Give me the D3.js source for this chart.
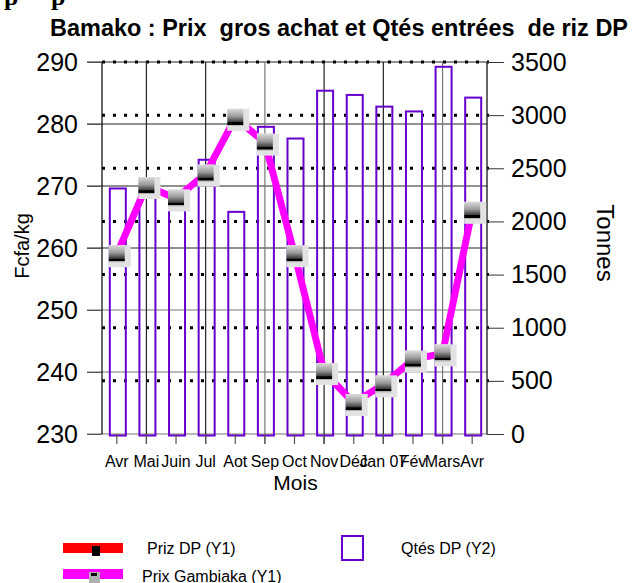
<!DOCTYPE html>
<html>
<head>
<meta charset="utf-8">
<script src="https://cdn.jsdelivr.net/npm/d3@7"></script>
<style>
  body { margin: 0; background: #fff; }
  svg { display: block; font-family: "Liberation Sans", Arial, sans-serif; }
</style>
</head>
<body>
<div id="chart"></div>
<script>
// Data
const months = ["Avr", "Mai", "Juin", "Jul", "Aot", "Sep", "Oct", "Nov", "Déc", "Jan 07", "Fév", "Mars", "Avr "];
const qtesDP = [2310, 2330, 2200, 2580, 2090, 2890, 2780, 3230, 3190, 3080, 3035, 3455, 3165];
const prixGambiaka = [259, 270, 268, 272, 281, 277, 259, 240, 235, 238, 242, 243, 266];
const y1Ticks = [230, 240, 250, 260, 270, 280, 290];
const y2Ticks = [0, 500, 1000, 1500, 2000, 2500, 3000, 3500];

const width = 632, height = 583;
const plot = {left: 102, right: 487, top: 62, bottom: 434};

const purple = "#6600cc";
const magenta = "#ff00ff";

const svg = d3.select("#chart").append("svg")
    .attr("width", width)
    .attr("height", height);

// marker gradient
const defs = svg.append("defs");
const grad = defs.append("linearGradient")
    .attr("id", "mk")
    .attr("x1", 0).attr("y1", 0).attr("x2", 0).attr("y2", 1);
[[0, "#dcdcdc"], [0.45, "#9a9a9a"], [0.78, "#3a3a3a"], [0.8, "#000"], [0.93, "#000"], [0.94, "#b0b0b0"], [1, "#b0b0b0"]]
    .forEach(([o, c]) => grad.append("stop").attr("offset", o).attr("stop-color", c));

// Scales
const x = d3.scaleBand()
    .domain(d3.range(months.length))
    .range([plot.left, plot.right])
    .padding(0);

const y1 = d3.scaleLinear().domain([230, 290]).range([plot.bottom, plot.top]);
const y2 = d3.scaleLinear().domain([0, 3500]).range([plot.bottom, plot.top]);
const cx = i => x(i) + x.bandwidth() / 2;

// cut-off text at the very top
svg.append("text")
    .attr("x", 4).attr("y", 5)
    .attr("font-family", "Liberation Serif, serif")
    .attr("font-weight", "bold")
    .attr("font-size", 26)
    .attr("xml:space", "preserve")
    .text("p     p");

// Title
svg.append("text")
    .attr("x", 50).attr("y", 36)
    .attr("font-weight", "bold")
    .attr("font-size", 23)
    .attr("textLength", 578)
    .attr("lengthAdjust", "spacingAndGlyphs")
    .attr("xml:space", "preserve")
    .text("Bamako : Prix  gros achat et Qtés entrées  de riz DP");

// Solid gridlines at Y1 ticks
svg.append("g").selectAll("line")
    .data(y1Ticks)
    .enter().append("line")
    .attr("x1", plot.left - 15).attr("x2", plot.right)
    .attr("y1", d => y1(d)).attr("y2", d => y1(d))
    .attr("stroke", d => d === 230 || d === 250 || d === 240 ? "#777" : "#222")
    .attr("stroke-width", 1.2);

// Dotted gridlines at Y2 ticks
svg.append("g").selectAll("line")
    .data(y2Ticks.filter(d => d > 0))
    .enter().append("line")
    .attr("x1", plot.left).attr("x2", plot.right + 2)
    .attr("y1", d => y2(d)).attr("y2", d => y2(d))
    .attr("stroke", "#000")
    .attr("stroke-width", 3)
    .attr("stroke-dasharray", "3,8");

// Vertical gridlines at every other month
svg.append("g").selectAll("line")
    .data(d3.range(1, months.length, 2))
    .enter().append("line")
    .attr("x1", d => cx(d)).attr("x2", d => cx(d))
    .attr("y1", plot.top).attr("y2", plot.bottom + 10)
    .attr("stroke", d => d === 5 || d === 11 ? "#777" : "#222")
    .attr("stroke-width", 1.2);

// Bars (outlined, no fill)
const barW = 16;
svg.append("g").selectAll("rect")
    .data(qtesDP)
    .enter().append("rect")
    .attr("x", (d, i) => cx(i) - barW / 2 + 1)
    .attr("y", d => y2(d))
    .attr("width", barW)
    .attr("height", d => plot.bottom + 1.5 - y2(d))
    .attr("fill", "none")
    .attr("stroke", purple)
    .attr("stroke-width", 2);

// Axes
const axL = svg.append("g")
    .attr("transform", `translate(${plot.left},0)`)
    .call(d3.axisLeft(y1).tickValues(y1Ticks).tickSize(15).tickPadding(9).tickFormat(d3.format("d")));
axL.selectAll("text").attr("font-size", 25).attr("fill", "#000").attr("font-family", "Liberation Sans, Arial, sans-serif");
axL.selectAll("line").attr("stroke", "#555");
axL.select(".domain").attr("stroke", "#000").attr("stroke-width", 1.2).attr("d", `M0,${plot.top}V${plot.bottom}`);

const axR = svg.append("g")
    .attr("transform", `translate(${plot.right},0)`)
    .call(d3.axisRight(y2).tickValues(y2Ticks).tickSize(17).tickPadding(7).tickFormat(d3.format("d")));
axR.selectAll("text").attr("font-size", 25).attr("fill", "#000").attr("font-family", "Liberation Sans, Arial, sans-serif");
axR.selectAll("line").attr("stroke", "#333");
axR.select(".domain").attr("stroke", "#000").attr("stroke-width", 1.2).attr("d", `M0,${plot.top}V${plot.bottom}`);

const axB = svg.append("g")
    .attr("transform", `translate(0,${plot.bottom})`)
    .call(d3.axisBottom(x).tickSize(10).tickPadding(12).tickFormat(i => months[i]));
axB.select(".domain").remove();
axB.selectAll("line").attr("stroke", "#555").attr("stroke-width", 1.2);
axB.selectAll("text").attr("font-size", 16).attr("fill", "#000").attr("font-family", "Liberation Sans, Arial, sans-serif");

// Line Prix Gambiaka
const line = d3.line()
    .x((d, i) => cx(i))
    .y(d => y1(d));

svg.append("path")
    .datum(prixGambiaka)
    .attr("d", line)
    .attr("fill", "none")
    .attr("stroke", magenta)
    .attr("stroke-width", 7)
    .attr("stroke-linejoin", "round");

// Markers
const mk = svg.append("g").selectAll("g")
    .data(prixGambiaka)
    .enter().append("g")
    .attr("transform", (d, i) => `translate(${cx(i)},${y1(d)})`);
mk.append("rect")
    .attr("x", -8).attr("y", -9).attr("width", 22).attr("height", 22)
    .attr("fill", "#e2e2e2");
mk.append("rect")
    .attr("x", -8).attr("y", -9).attr("width", 16).attr("height", 17)
    .attr("fill", "url(#mk)");

// Axis titles
svg.append("text")
    .attr("transform", `translate(29,246) rotate(-90)`)
    .attr("text-anchor", "middle")
    .attr("font-size", 20)
    .text("Fcfa/kg");

svg.append("text")
    .attr("transform", `translate(597,243) rotate(90)`)
    .attr("text-anchor", "middle")
    .attr("font-size", 24)
    .text("Tonnes");

svg.append("text")
    .attr("x", (plot.left + plot.right) / 2 + 1)
    .attr("y", 490)
    .attr("text-anchor", "middle")
    .attr("font-size", 21)
    .text("Mois");

// Legend
const lg = svg.append("g");
lg.append("rect").attr("x", 63).attr("y", 543).attr("width", 60).attr("height", 10).attr("fill", "#ff0000");
lg.append("rect").attr("x", 92).attr("y", 546).attr("width", 8).attr("height", 10).attr("fill", "#000");
lg.append("text").attr("x", 147).attr("y", 554).attr("font-size", 16).text("Priz DP (Y1)");

lg.append("rect").attr("x", 63).attr("y", 569).attr("width", 60).attr("height", 10).attr("fill", magenta);
lg.append("rect").attr("x", 89).attr("y", 572).attr("width", 11).attr("height", 12).attr("fill", "#b0b0b0");
lg.append("rect").attr("x", 91).attr("y", 573).attr("width", 6).attr("height", 3).attr("fill", "#000");
lg.append("text").attr("x", 142).attr("y", 582).attr("font-size", 16).text("Prix Gambiaka (Y1)");

lg.append("rect").attr("x", 342).attr("y", 536).attr("width", 21).attr("height", 24)
    .attr("fill", "none").attr("stroke", purple).attr("stroke-width", 2);
lg.append("text").attr("x", 401).attr("y", 554).attr("font-size", 16).text("Qtés DP (Y2)");
</script>
</body>
</html>
